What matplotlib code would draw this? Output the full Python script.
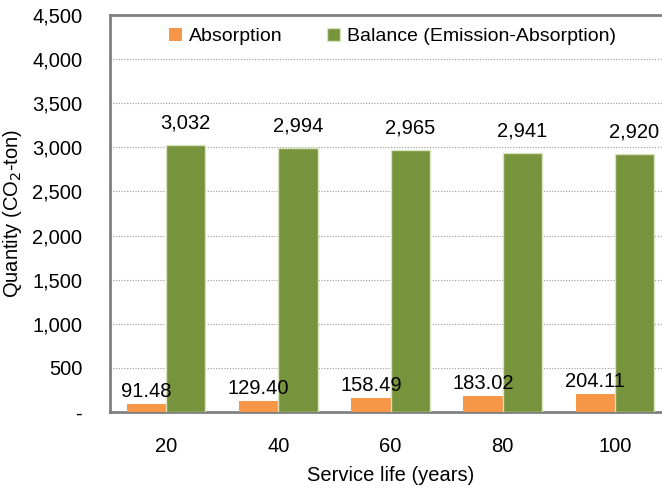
import matplotlib
matplotlib.use("Agg")
import matplotlib.pyplot as plt
import numpy as np

plt.rcParams['font.family'] = ['Liberation Sans', 'DejaVu Sans']

categories = ["20", "40", "60", "80", "100"]
absorption = [91.48, 129.40, 158.49, 183.02, 204.11]
balance = [3032, 2994, 2965, 2941, 2920]
absorption_labels = ["91.48", "129.40", "158.49", "183.02", "204.11"]
balance_labels = ["3,032", "2,994", "2,965", "2,941", "2,920"]
yticks = [0, 500, 1000, 1500, 2000, 2500, 3000, 3500, 4000, 4500]
ytick_labels = ["-", "500", "1,000", "1,500", "2,000", "2,500", "3,000", "3,500", "4,000", "4,500"]

FS = 14.5
W, H = 662, 488
fig = plt.figure(figsize=(W / 100, H / 100), dpi=100)
x0, x1, y0, y1 = 110, 671, 15, 412
ax = fig.add_axes([x0 / W, 1 - y1 / H, (x1 - x0) / W, (y1 - y0) / H])

x = np.arange(len(categories))
w = 0.35
orange = "#F79646"
green = "#77933C"
ax.bar(x - w / 2, absorption, w, color=orange, label="Absorption", zorder=3)
ax.bar(x + w / 2, balance, w, color=green, edgecolor="#D7E4BD", linewidth=1,
       label="Balance (Emission-Absorption)", zorder=3)

for xi, v, s in zip(x, absorption, absorption_labels):
    ax.annotate(s, (xi - w / 2, v), xytext=(0, 2), textcoords="offset points",
                ha="center", va="bottom", fontsize=FS, zorder=4)
for xi, v, s in zip(x, balance, balance_labels):
    ax.annotate(s, (xi + w / 2, v), xytext=(0, 9), textcoords="offset points",
                ha="center", va="bottom", fontsize=FS, zorder=4)

ax.set_xlim(-0.5, len(categories) - 0.5)
ax.set_ylim(0, 4500)
ax.set_yticks(yticks)
ax.set_yticklabels(ytick_labels, fontsize=FS)
ax.set_xticks(x)
ax.set_xticklabels(categories, fontsize=FS)
ax.tick_params(axis="both", length=0)
ax.tick_params(axis="y", pad=20)
ax.tick_params(axis="x", pad=18)
ax.yaxis.grid(True, linestyle=(0, (1, 1.5)), color="#999999", linewidth=0.8, zorder=0)
ax.set_axisbelow(True)
for side in ["left", "bottom", "top"]:
    ax.spines[side].set_color("#808080")
    ax.spines[side].set_linewidth(2)
ax.spines["right"].set_visible(False)

ax.set_xlabel("Service life (years)", fontsize=FS, labelpad=7)
ax.set_ylabel("Quantity (CO$_2$-ton)", fontsize=FS, labelpad=6)

ax.legend(loc="upper center", bbox_to_anchor=(0.503, 1.0), ncol=2, frameon=False,
          fontsize=14, handlelength=0.67, handleheight=0.67, columnspacing=2.3,
          handletextpad=0.35, borderaxespad=0.25)

fig.savefig("out.png", dpi=100)
